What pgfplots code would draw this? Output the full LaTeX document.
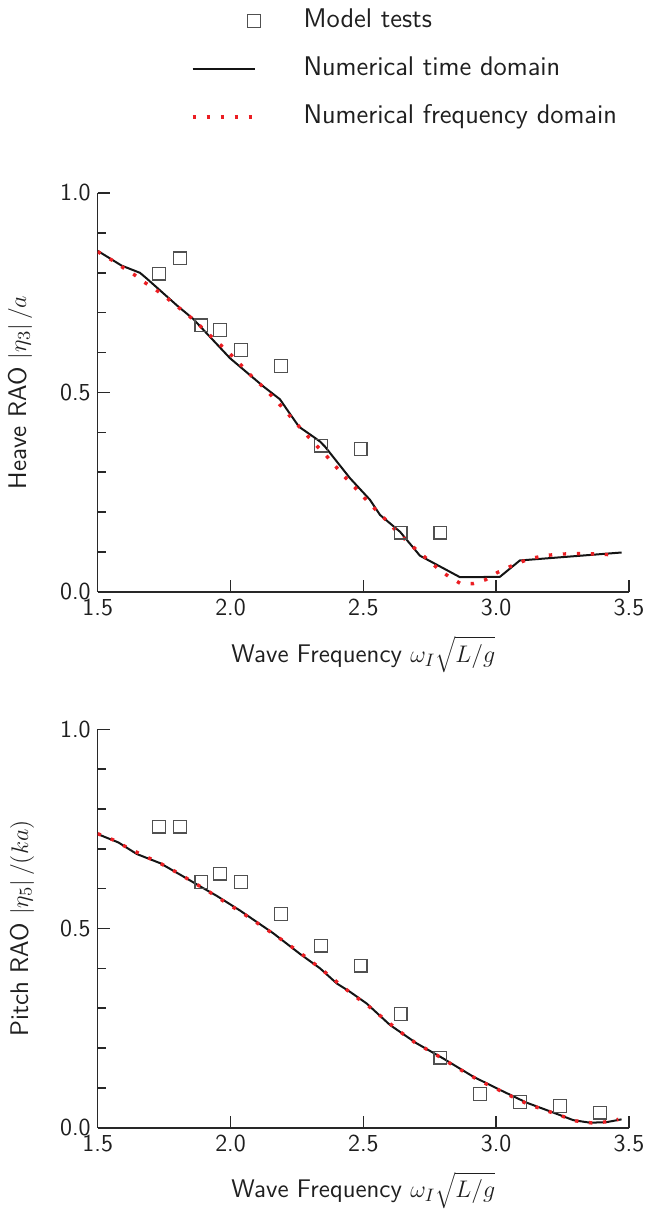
\documentclass[border=0pt]{standalone}
\usepackage{pgfplots}
\pgfplotsset{compat=1.18}
\definecolor{dotred}{RGB}{235,30,35}
\definecolor{axisgray}{RGB}{40,40,40}
\definecolor{sqgray}{RGB}{80,80,80}
\definecolor{curve}{RGB}{20,20,20}
\pgfplotsset{
 raoaxis/.style={
  scale only axis, width=265.65pt, height=199.5pt,
  xmin=1.5, xmax=3.5, ymin=0, ymax=1,
  axis x line=bottom, axis y line=left,
  axis line style={-, line width=0.8pt, axisgray},
  xtick={1.5,2,2.5,3,3.5}, ytick={0,0.5,1},
  minor ytick={0.1,0.2,0.3,0.4,0.6,0.7,0.8,0.9},
  tick align=inside, major tick length=6pt, minor tick length=4pt,
  every tick/.style={axisgray, line width=0.8pt},
  /pgf/number format/fixed, /pgf/number format/fixed zerofill,
  /pgf/number format/precision=1, /pgf/number format/assume math mode=true,
  tick label style={font=\sffamily\fontsize{12.2}{14}\selectfont, text=black!88},
  label style={font=\sffamily\fontsize{12.75}{15}\selectfont, text=black!88},
  x label style={at={(axis description cs:0.5,-0.1755)}, anchor=base},
  xlabel={Wave Frequency $\omega_I\sqrt{L/g}$},
 },
 sqstyle/.style={only marks, mark=square, mark size=3.2pt, sqgray, mark options={line width=0.6pt, fill=none}},
 tdstyle/.style={curve, line width=1pt, no marks, line join=round},
 fdstyle/.style={dotred, line width=1.7pt, no marks, line cap=butt, dash pattern=on 1.7pt off 5.3pt},
}
\begin{document}
\begin{tikzpicture}
\path[use as bounding box] (-48.85pt,-311pt) rectangle (274.65pt,296pt);
\begin{axis}[raoaxis,
  y label style={at={(axis description cs:-0.146,0.5)}, anchor=center},
  ylabel={Heave RAO $\left|\eta_3\right|/a$},
  legend cell align=left,
  legend style={at={(0.1747,1.4625)}, anchor=north west, draw=none, fill=none,
    inner sep=0pt, row sep=12pt, column sep=21.5pt,
    font=\sffamily\fontsize{13.5}{16}\selectfont, text=black!88,
    nodes={inner sep=0pt, text height=9.5pt, text depth=2.5pt}},
]
\addlegendimage{sqstyle, legend image code/.code={\draw plot coordinates {(30.6pt,0pt)}; \path[draw=none,fill=none] (0pt,-4pt) rectangle (34pt,4pt);}}
\addlegendentry{Model tests}
\addlegendimage{tdstyle, legend image code/.code={\draw (0pt,0pt) -- (31.3pt,0pt); \path[draw=none,fill=none] (0pt,-4pt) rectangle (34pt,4pt);}}
\addlegendentry{Numerical time domain}
\addlegendimage{fdstyle, legend image code/.code={\draw (0pt,0pt) -- (31.3pt,0pt); \path[draw=none,fill=none] (0pt,-4pt) rectangle (34pt,4pt);}}
\addlegendentry{Numerical frequency domain}
\addplot[tdstyle, forget plot] coordinates {
(1.50,0.855) (1.59,0.818) (1.659,0.800) (1.684,0.786) (1.797,0.719) (1.86,0.684)
(1.998,0.586) (2.124,0.515) (2.186,0.483) (2.218,0.452) (2.258,0.414) (2.312,0.389)
(2.337,0.377) (2.356,0.364) (2.45,0.285) (2.525,0.231) (2.563,0.193) (2.638,0.151)
(2.713,0.091) (2.864,0.037) (3.014,0.038) (3.089,0.079) (3.165,0.083) (3.472,0.099)};
\addplot[fdstyle, forget plot] coordinates {
(1.50,0.853) (1.553,0.832) (1.593,0.814) (1.634,0.797) (1.676,0.776) (1.716,0.759)
(1.756,0.739) (1.797,0.717) (1.835,0.697) (1.875,0.674) (1.91,0.651) (1.945,0.630)
(1.982,0.607) (2.018,0.584) (2.055,0.558) (2.088,0.535) (2.124,0.513) (2.157,0.490)
(2.193,0.464) (2.226,0.439) (2.259,0.414) (2.293,0.389) (2.325,0.366) (2.36,0.342)
(2.393,0.317) (2.425,0.292) (2.46,0.268) (2.494,0.243) (2.529,0.218) (2.563,0.195)
(2.598,0.172) (2.632,0.147) (2.67,0.124) (2.707,0.101) (2.745,0.080) (2.782,0.058)
(2.823,0.038) (2.864,0.022) (2.913,0.021) (2.961,0.031) (3.005,0.049) (3.05,0.063)
(3.096,0.076) (3.144,0.086) (3.193,0.092) (3.243,0.095) (3.29,0.096) (3.34,0.096)
(3.39,0.095) (3.44,0.093)};
\addplot[sqstyle, forget plot] coordinates {
(1.73,0.798) (1.81,0.836) (1.89,0.668) (1.96,0.657) (2.04,0.607) (2.19,0.567)
(2.34,0.367) (2.49,0.358) (2.64,0.149) (2.79,0.149)};
\end{axis}
\begin{axis}[raoaxis, at={(0pt,-267.85pt)}, anchor=south west, height=199.2pt,
  y label style={at={(axis description cs:-0.1425,0.5)}, anchor=center},
  ylabel={Pitch RAO $\left|\eta_5\right|/(ka)$},
]
\addplot[tdstyle] coordinates {
(1.50,0.737) (1.578,0.716) (1.647,0.687) (1.735,0.664) (1.816,0.633) (1.898,0.601)
(1.948,0.582) (2.036,0.545) (2.161,0.488) (2.262,0.436) (2.337,0.400) (2.40,0.362)
(2.45,0.341) (2.512,0.312) (2.60,0.258) (2.70,0.212) (2.80,0.174) (2.914,0.128)
(3.014,0.095) (3.114,0.063) (3.215,0.038) (3.29,0.019) (3.354,0.0125) (3.416,0.014)
(3.472,0.021)};
\addplot[fdstyle] coordinates {
(1.50,0.738) (1.56,0.722) (1.62,0.700) (1.68,0.681) (1.74,0.662) (1.80,0.640)
(1.86,0.616) (1.92,0.592) (1.98,0.566) (2.04,0.541) (2.10,0.514) (2.16,0.487)
(2.22,0.459) (2.28,0.430) (2.34,0.399) (2.40,0.366) (2.46,0.334) (2.52,0.305)
(2.58,0.272) (2.64,0.240) (2.70,0.211) (2.76,0.189) (2.82,0.164) (2.88,0.140)
(2.94,0.117) (3.00,0.098) (3.06,0.078) (3.12,0.059) (3.18,0.045) (3.24,0.031)
(3.30,0.017) (3.36,0.012) (3.42,0.015) (3.46,0.021)};
\addplot[sqstyle] coordinates {
(1.73,0.756) (1.81,0.756) (1.89,0.617) (1.96,0.638) (2.04,0.617) (2.19,0.537)
(2.34,0.457) (2.49,0.407) (2.64,0.286) (2.79,0.176) (2.94,0.085) (3.09,0.065)
(3.24,0.055) (3.39,0.038)};
\end{axis}
\end{tikzpicture}
\end{document}
